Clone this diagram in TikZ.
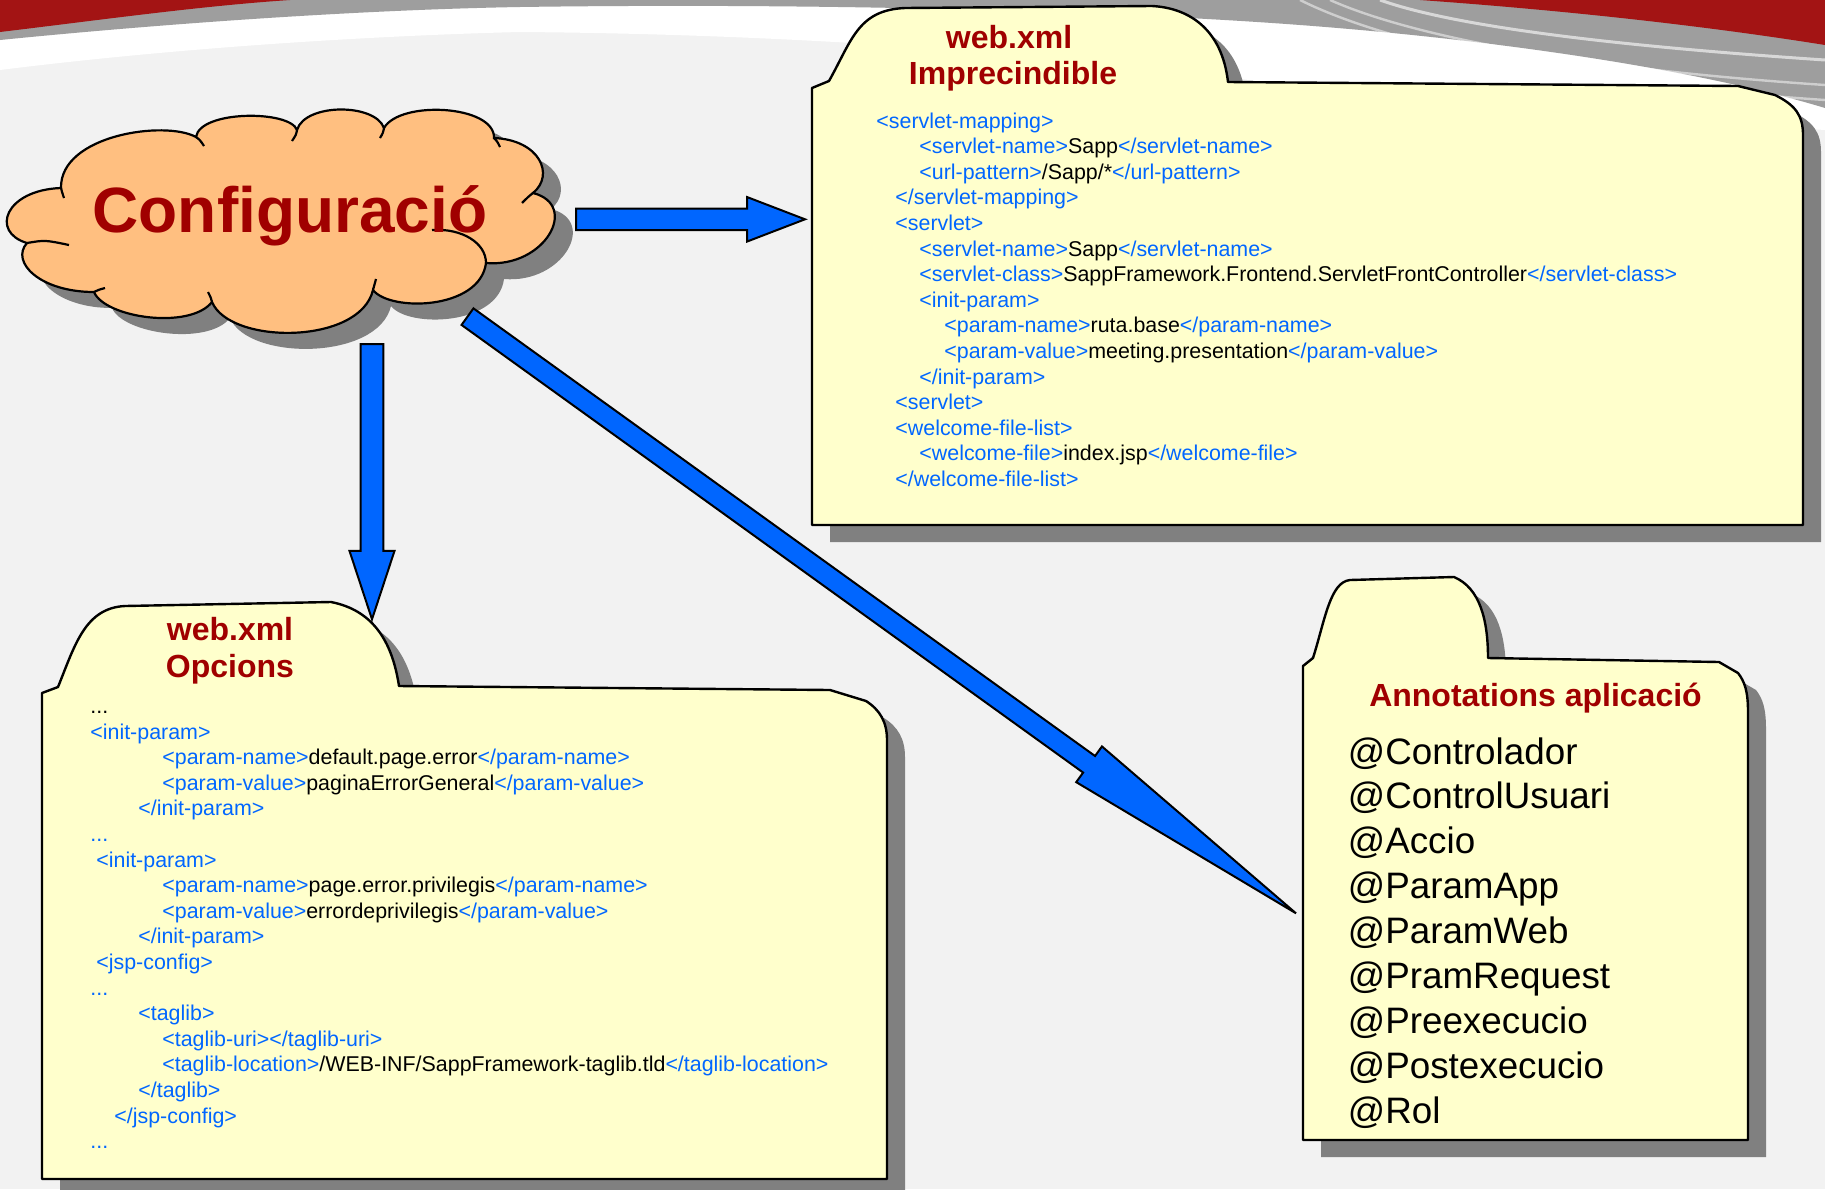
\documentclass[tikz,border=0pt]{standalone}
\usepackage{fontspec}
\setmainfont{Liberation Sans}
\usetikzlibrary{calc}
\definecolor{bgc}{HTML}{F2F2F2}
\definecolor{swred}{HTML}{A31414}
\definecolor{swgray}{HTML}{9E9E9E}
\definecolor{cloudfill}{HTML}{FFBF80}
\definecolor{titlered}{HTML}{A00000}
\definecolor{folderfill}{HTML}{FFFFCC}
\definecolor{shadowgray}{HTML}{808080}
\definecolor{arrowblue}{HTML}{0066FF}
\definecolor{tagblue}{HTML}{0066FF}
\newcommand\tg[1]{\textcolor{tagblue}{#1}}
\newcommand\cl[4]{\node[codetext] (#1) at (#2,#3) {#4};}
\newcommand\blockarrow[5]{%
  \path ($(#2)!#5!(#1)$) coordinate (hb);
  \filldraw[blockarr] ($(#1)!#3!90:(#2)$) -- ($(hb)!#3!90:(#2)$) -- ($(hb)!#4!90:(#2)$) -- (#2)
    -- ($(hb)!#4!-90:(#2)$) -- ($(hb)!#3!-90:(#2)$) -- ($(#1)!#3!-90:(#2)$) -- cycle;}
\begin{document}
\begin{tikzpicture}[x=0.5pt,y=-0.5pt,
  folder/.style={fill=folderfill,draw=black,line width=1.2pt,line join=round},
  fshadow/.style={fill=shadowgray},
  cloudbody/.style={fill=cloudfill,draw=black,line width=1.1pt},
  cloudline/.style={draw=black,line width=1.1pt},
  codetext/.style={anchor=base west,inner sep=0pt,font=\fontsize{10.7}{12.8}\selectfont,text=black},
  titletext/.style={anchor=base,inner sep=0pt,font=\fontsize{16}{19}\selectfont\bfseries,text=titlered},
  annot/.style={anchor=base west,inner sep=0pt,font=\fontsize{18.4}{22}\selectfont,text=black},
  blockarr/.style={fill=arrowblue,draw=black,line width=1pt,line join=miter},
  trshape/.style={insert path={(812,525) -- (812,88) -- (829,81) .. controls (852,40) and (858,10) .. (905,8) -- (1152,6) .. controls (1190,8) and (1222,30) .. (1228,82) -- (1738,86) -- (1775,95) .. controls (1795,105) and (1803,115) .. (1803,135) -- (1803,525) -- cycle}},
  blshape/.style={insert path={(42,1179) -- (42,693) -- (58,687) .. controls (75,645) and (85,608) .. (125,606) -- (331,602) .. controls (372,610) and (392,640) .. (399,686) -- (830,690) -- (866,701) .. controls (880,710) and (887,722) .. (887,740) -- (887,1179) -- cycle}},
  anshape/.style={insert path={(1303,1140) -- (1303,666) -- (1313,658) .. controls (1325,620) and (1330,582) .. (1350,580) -- (1454,577) .. controls (1480,588) and (1488,620) .. (1488,658) -- (1719,662) -- (1738,673) .. controls (1745,682) and (1748,692) .. (1748,712) -- (1748,1140) -- cycle}},
  cloudshape/.style={insert path={(61,188) .. controls (5,190) and (-10,232) .. (27,243)
     .. controls (10,262) and (40,292) .. (94,292)
     .. controls (105,318) and (190,330) .. (212,302)
     .. controls (230,345) and (360,345) .. (373,290)
     .. controls (390,312) and (480,310) .. (486,263)
     .. controls (545,268) and (580,205) .. (533,193)
     .. controls (555,175) and (540,140) .. (494,138)
     .. controls (495,105) and (400,100) .. (384,128)
     .. controls (375,103) and (305,103) .. (297,130)
     .. controls (290,110) and (200,110) .. (196,137)
     .. controls (165,120) and (60,135) .. (61,188) -- cycle}}
]
\useasboundingbox (0,0) rectangle (1825,1189);
% background
\fill[bgc] (0,0) rectangle (1825,1189);
\fill[white] (0,40) -- (0,70) .. controls (200,45) and (400,35) .. (520,32) .. controls (900,35) and (1200,70) .. (1350,95) .. controls (1550,112) and (1700,122) .. (1825,130) -- (1825,0) -- (0,0) -- cycle;
\fill[swgray] (0,0) -- (0,40) .. controls (150,25) and (350,10) .. (520,7) .. controls (800,3) and (1100,10) .. (1300,25) .. controls (1500,40) and (1700,70) .. (1825,108) -- (1825,0) -- cycle;
\draw[white,opacity=0.6,line width=1.5pt] (1380,0) .. controls (1450,25) and (1600,45) .. (1825,60);
\draw[white,opacity=0.5,line width=1.2pt] (1330,0) .. controls (1420,40) and (1600,70) .. (1825,85);
\draw[white,opacity=0.5,line width=1.2pt] (1300,0) .. controls (1400,50) and (1600,85) .. (1825,100);
\fill[swred] (0,0) -- (0,32) .. controls (100,20) and (200,6) .. (290,0) -- cycle;
\fill[swred] (1420,0) .. controls (1560,10) and (1700,25) .. (1825,45) -- (1825,0) -- cycle;
% folders
\fill[fshadow,shift={(18,17)},trshape];
\fill[fshadow,shift={(18,17)},blshape];
\fill[fshadow,shift={(18,17)},anshape];
\filldraw[folder,trshape];
\filldraw[folder,blshape];
\filldraw[folder,anshape];
% cloud
\fill[fshadow,shift={(18,16)},cloudshape];
\filldraw[cloudbody,cloudshape];
\draw[cloudline] (196,137) .. controls (200,140) .. (204,146);
\draw[cloudline] (297,130) .. controls (296,135) .. (292,141);
\draw[cloudline] (384,128) .. controls (383,133) .. (380,138);
\draw[cloudline] (494,138) .. controls (497,141) .. (500,147);
\draw[cloudline] (533,193) .. controls (528,197) .. (522,203);
\draw[cloudline] (486,263) .. controls (486,243) and (462,228) .. (432,230);
\draw[cloudline] (373,290) .. controls (374,285) .. (376,279);
\draw[cloudline] (212,302) .. controls (211,298) .. (208,292);
\draw[cloudline] (94,292) .. controls (98,290) .. (105,288);
\draw[cloudline] (27,243) .. controls (45,240) .. (69,245);
\draw[cloudline] (61,188) .. controls (62,192) .. (64,198);
\node[anchor=base,inner sep=0pt,font=\fontsize{32}{38}\selectfont\bfseries,text=titlered] (cfg) at (290,232) {Configuració};
% arrows
\coordinate (cfgR) at (576,219.3);
\coordinate (trIn) at (805,219.3);
\coordinate (cfgB) at (372,344);
\coordinate (blIn) at (372,619.3);
\coordinate (cfgD) at (467.5,316.65);
\coordinate (anIn) at (1296,913.3);
\blockarrow{cfgR}{trIn}{5.4pt}{11.1pt}{28.9pt}
\blockarrow{cfgB}{blIn}{5.65pt}{11.25pt}{34.2pt}
\blockarrow{cfgD}{anIn}{5.1pt}{11pt}{127.5pt}
% titles
\node[titletext] (trT1) at (1009,48) {web.xml};
\node[titletext] (trT2) at (1013,84) {Imprecindible};
\node[titletext] (blT1) at (230,640) {web.xml};
\node[titletext] (blT2) at (230,677) {Opcions};
\node[titletext] (anT) at (1535.5,706) {Annotations aplicació};
% top-right code
\cl{tr0}{876}{128}{\tg{<servlet-mapping>}}
\cl{tr1}{919}{153.6}{\tg{<servlet-name>}Sapp\tg{</servlet-name>}}
\cl{tr2}{919}{179.2}{\tg{<url-pattern>}/Sapp/*\tg{</url-pattern>}}
\cl{tr3}{895}{204.8}{\tg{</servlet-mapping>}}
\cl{tr4}{895}{230.4}{\tg{<servlet>}}
\cl{tr5}{919}{256}{\tg{<servlet-name>}Sapp\tg{</servlet-name>}}
\cl{tr6}{919}{281.6}{\tg{<servlet-class>}SappFramework.Frontend.ServletFrontController\tg{</servlet-class>}}
\cl{tr7}{919}{307.2}{\tg{<init-param>}}
\cl{tr8}{944}{332.8}{\tg{<param-name>}ruta.base\tg{</param-name>}}
\cl{tr9}{944}{358.4}{\tg{<param-value>}meeting.presentation\tg{</param-value>}}
\cl{tr10}{919}{384}{\tg{</init-param>}}
\cl{tr11}{895}{409.6}{\tg{<servlet>}}
\cl{tr12}{895}{435.2}{\tg{<welcome-file-list>}}
\cl{tr13}{919}{460.8}{\tg{<welcome-file>}index.jsp\tg{</welcome-file>}}
\cl{tr14}{895}{486.4}{\tg{</welcome-file-list>}}
% bottom-left code
\cl{bl0}{90}{713.5}{...}
\cl{bl1}{90}{739.1}{\tg{<init-param>}}
\cl{bl2}{162}{764.7}{\tg{<param-name>}default.page.error\tg{</param-name>}}
\cl{bl3}{162}{790.3}{\tg{<param-value>}paginaErrorGeneral\tg{</param-value>}}
\cl{bl4}{138}{815.9}{\tg{</init-param>}}
\cl{bl5}{90}{841.5}{\tg{...}}
\cl{bl6}{96}{867.1}{\tg{<init-param>}}
\cl{bl7}{162}{892.7}{\tg{<param-name>}page.error.privilegis\tg{</param-name>}}
\cl{bl8}{162}{918.3}{\tg{<param-value>}errordeprivilegis\tg{</param-value>}}
\cl{bl9}{138}{943.9}{\tg{</init-param>}}
\cl{bl10}{96}{969.5}{\tg{<jsp-config>}}
\cl{bl11}{90}{995.1}{\tg{...}}
\cl{bl12}{138}{1020.7}{\tg{<taglib>}}
\cl{bl13}{162}{1046.3}{\tg{<taglib-uri></taglib-uri>}}
\cl{bl14}{162}{1071.9}{\tg{<taglib-location>}/WEB-INF/SappFramework-taglib.tld\tg{</taglib-location>}}
\cl{bl15}{138}{1097.5}{\tg{</taglib>}}
\cl{bl16}{114}{1123.1}{\tg{</jsp-config>}}
\cl{bl17}{90}{1148.7}{\tg{...}}
% annotations
\node[annot] (an0) at (1347.5,764) {@Controlador};
\node[annot] (an1) at (1347.5,808.9) {@ControlUsuari};
\node[annot] (an2) at (1347.5,853.8) {@Accio};
\node[annot] (an3) at (1347.5,898.7) {@ParamApp};
\node[annot] (an4) at (1347.5,943.6) {@ParamWeb};
\node[annot] (an5) at (1347.5,988.5) {@PramRequest};
\node[annot] (an6) at (1347.5,1033.4) {@Preexecucio};
\node[annot] (an7) at (1347.5,1078.3) {@Postexecucio};
\node[annot] (an8) at (1347.5,1123.2) {@Rol};
\end{tikzpicture}
\end{document}
